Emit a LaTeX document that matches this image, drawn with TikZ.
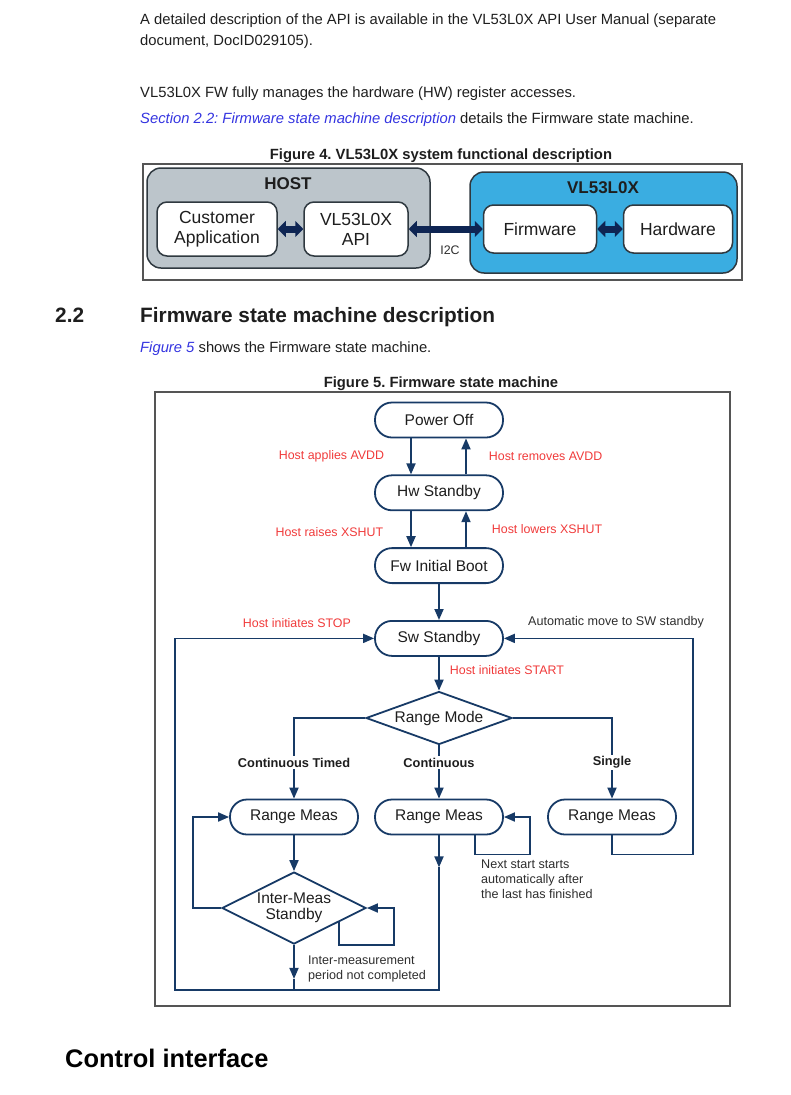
\documentclass[tikz,border=0pt]{standalone}
\usepackage{fontspec}
\setmainfont{Liberation Sans}
\usepackage{tikz}
\usetikzlibrary{calc}
\usetikzlibrary{arrows.meta}
\usetikzlibrary{positioning}
\usetikzlibrary{shapes.geometric}
\definecolor{smnavy}{HTML}{173A66}
\definecolor{smred}{HTML}{F03A3A}
\definecolor{bodygray}{HTML}{1E1E1E}
\definecolor{notegray}{HTML}{2E2E2E}
\definecolor{linkblue}{HTML}{3434E0}
\definecolor{hostgray}{HTML}{BCC5CB}
\definecolor{vlblue}{HTML}{3AADE1}
\definecolor{busnavy}{HTML}{0E2553}
\definecolor{boxline}{HTML}{2F3940}
\definecolor{frameline}{HTML}{555555}
\tikzset{%
  bodytext/.style={anchor=base west, inner sep=0pt, text=bodygray, font=\fontsize{14.8}{17}\selectfont},
  captext/.style={anchor=base, inner sep=0pt, text=bodygray, font=\bfseries\fontsize{14.8}{17}\selectfont},
  headtext/.style={anchor=base west, inner sep=0pt, text=bodygray, font=\bfseries\fontsize{20.8}{24}\selectfont},
  chaptext/.style={anchor=base west, inner sep=0pt, text=black, font=\bfseries\fontsize{25.4}{30}\selectfont},
  figframe/.style={draw=frameline, line width=1.3pt},
  groupbox/.style={draw=boxline, line width=1.5pt, rounded corners=14pt},
  hwbox/.style={rectangle, rounded corners=10pt, draw=boxline, line width=1.5pt, fill=white,
    minimum height=54pt, align=center, text=bodygray, font=\fontsize{17.5}{20}\selectfont},
  busedge/.style={{Triangle[length=8pt,width=16pt]}-{Triangle[length=8pt,width=16pt]}, draw=busnavy, line width=7pt},
  smstate/.style={rectangle, rounded corners=17pt, draw=smnavy, line width=1.8pt, fill=white,
    minimum width=128pt, minimum height=35pt, text=bodygray, font=\fontsize{15.5}{18}\selectfont},
  smchoice/.style={diamond, draw=smnavy, line width=1.8pt, fill=white, inner sep=0pt, align=center,
    text=bodygray, font=\fontsize{15.5}{16}\selectfont},
  smedge/.style={-{Triangle[length=11pt,width=9pt]}, draw=smnavy, line width=1.8pt},
  smline/.style={draw=smnavy, line width=1.8pt},
  smred/.style={text=smred, inner sep=0pt, font=\fontsize{12.4}{15}\selectfont},
  smnote/.style={text=notegray, inner sep=0pt, align=left, font=\fontsize{12.6}{15}\selectfont},
  smmode/.style={fill=white, inner sep=1.5pt, text=bodygray, font=\bfseries\fontsize{12.8}{15}\selectfont}
}
\begin{document}
\frenchspacing
\begin{tikzpicture}[x=1pt, y=-1pt]
  \useasboundingbox (0,0) rectangle (790,1095);
  % page text
  \node[bodytext] (p1) at (140,24) {A detailed description of the API is available in the VL53L0X API User Manual (separate};
  \node[bodytext] (p2) at (140,45) {document, DocID029105).};
  \node[bodytext] (p3) at (140,97) {VL53L0X FW fully manages the hardware (HW) register accesses.};
  \node[bodytext] (p4) at (140,123) {\textcolor{linkblue}{\itshape Section 2.2: Firmware state machine description} details the Firmware state machine.};
  \node[captext] (cap4) at (441,159) {Figure 4. VL53L0X system functional description};
  \node[headtext] (secnum) at (55,322) {2.2};
  \node[headtext] (sectitle) at (140,322) {Firmware state machine description};
  \node[bodytext] (p5) at (140,352) {\textcolor{linkblue}{\itshape Figure 5} shows the Firmware state machine.};
  \node[captext] (cap5) at (441,387) {Figure 5. Firmware state machine};
  \node[chaptext] (chap) at (65,1067) {Control interface};

  % figure 4
  \draw[figframe] (143,164) rectangle (742,280);
  \draw[groupbox, fill=hostgray] (147,168) rectangle (430,268);
  \draw[groupbox, fill=vlblue] (470,172) rectangle (737,273);
  \node[text=bodygray, font=\bfseries\fontsize{17}{20}\selectfont] (hosttitle) at (288,184) {HOST};
  \node[text=bodygray, font=\bfseries\fontsize{17}{20}\selectfont] (vltitle) at (603,188) {VL53L0X};
  \node[hwbox, minimum width=120pt] (cust) at (217,229) {Customer\\Application};
  \node[hwbox, minimum width=104pt] (api) at (356,229) {VL53L0X\\API};
  \node[hwbox, minimum width=113pt, minimum height=48pt] (fwr) at (540,229) {Firmware};
  \node[hwbox, minimum width=109pt, minimum height=48pt] (hwr) at (678,229) {Hardware};
  \draw[busedge] (cust) -- (api);
  \draw[busedge] (api) -- (fwr);
  \draw[busedge] (fwr) -- (hwr);
  \node[text=notegray, font=\fontsize{12.4}{15}\selectfont] (i2c) at (450,250) {I2C};

  % figure 5
  \draw[figframe] (155,392) rectangle (730,1006);
  \node[smstate] (off) at (439,420) {Power Off};
  \node[smstate, below=36pt of off] (hw) {Hw Standby};
  \node[smstate, below=36pt of hw] (fw) {Fw Initial Boot};
  \node[smstate, below=36pt of fw] (sw) {Sw Standby};
  \node[smchoice, aspect=3, minimum width=146pt, minimum height=53pt] (mode) at (439,718) {Range Mode};
  \node[smstate] (rm1) at (294,817) {Range Meas};
  \node[smstate] (rm2) at (439,817) {Range Meas};
  \node[smstate] (rm3) at (612,817) {Range Meas};
  \node[smchoice, aspect=2, minimum width=144pt, minimum height=72pt] (im) at (294,908) {Inter-Meas\\Standby};

  \draw[smedge] ([xshift=-28pt]off.south) -- ([xshift=-28pt]hw.north) node[midway, left=26pt, smred] {Host applies AVDD};
  \draw[smedge] ([xshift=27pt]hw.north) -- ([xshift=27pt]off.south) node[midway, right=22pt, smred] {Host removes AVDD};
  \draw[smedge] ([xshift=-28pt]hw.south) -- ([xshift=-28pt]fw.north) node[midway, left=27pt, smred, yshift=-3pt] {Host raises XSHUT};
  \draw[smedge] ([xshift=27pt]fw.north) -- ([xshift=27pt]hw.south) node[midway, right=25pt, smred] {Host lowers XSHUT};
  \draw[smedge] (fw) -- (sw);
  \draw[smedge] (sw) -- (mode) node[pos=0.38, right=10pt, smred] {Host initiates START};

  \draw[smedge] (mode.west) -| (rm1.north);
  \draw[smedge] (mode.south) -- (rm2.north);
  \draw[smedge] (mode.east) -| (rm3.north);
  \node[smmode] (ct) at ($(rm1.north)+(0,-36)$) {Continuous Timed};
  \node[smmode] (cn) at ($(rm2.north)+(0,-36)$) {Continuous};
  \node[smmode] (sg) at ($(rm3.north)+(0,-36)$) {Single};

  \draw[smedge] (rm1) -- (im);
  \draw[smedge] (im.west) -- ++(-28,0) |- (rm1.west);
  \draw[smedge] ($(im.south)!0.62!(im.east)$) -- ++(0,23) -- ++(55,0) |- (im.east);
  \draw[smedge] (im.south) -- ++(0,34) coordinate (imtip);
  \draw[smline] (imtip) -- ++(0,12);
  \node[smnote, anchor=west] (imnote) at ($(im.south)+(14,24)$) {Inter-measurement\\period not completed};

  \coordinate (stopcorner) at (175,990);
  \draw[smedge] (rm2.south) -- ++(0,32) coordinate (rm2tip);
  \draw[smedge] (rm2tip) |- (stopcorner) |- (sw.west);
  \node[smred, anchor=east] (stop) at ($(sw.west)+(-23,-15)$) {Host initiates STOP};

  \draw[smedge] ([xshift=36pt]rm2.south) -- ++(0,19) -- ++(55,0) |- (rm2.east);
  \node[smnote, anchor=north west] (rm2note) at ($([xshift=36pt]rm2.south)+(6,24)$) {Next start starts\\automatically after\\the last has finished};
  \draw[smedge] (rm3.south) -- ++(0,19) -- ++(81,0) |- (sw.east);
  \node[smnote, anchor=west] (auto) at ($(sw.east)+(24,-16)$) {Automatic move to SW standby};
\end{tikzpicture}
\end{document}
